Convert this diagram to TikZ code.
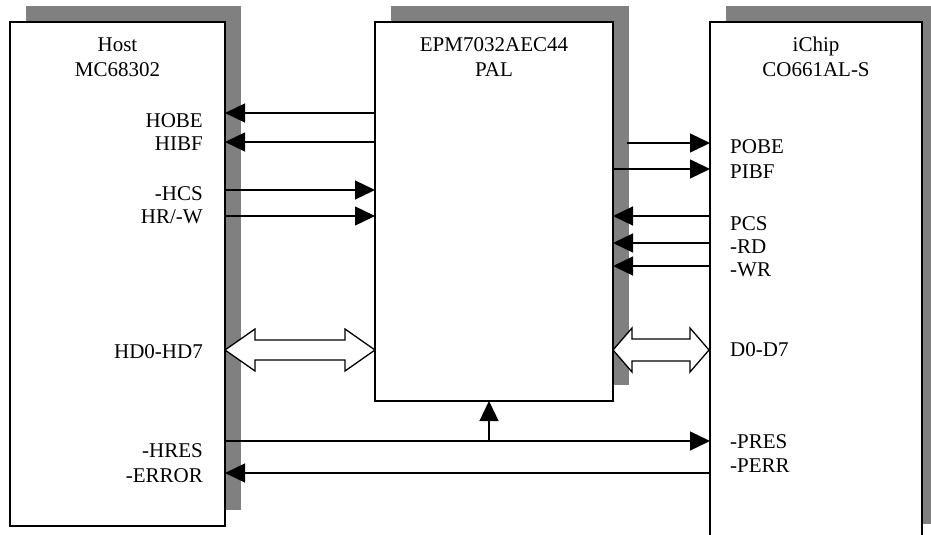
\documentclass[tikz,border=0pt]{standalone}
\usepackage{fontspec}
\setmainfont{Liberation Serif}
\usetikzlibrary{arrows.meta}
\begin{document}
\begin{tikzpicture}[x=1pt,y=-1pt,
  shadowbox/.style={fill=black!50,draw=none},
  chipbox/.style={fill=white,draw=black,line width=1.4pt},
  sig/.style={line width=1.3pt,-{Triangle[length=20pt,width=19pt]}},
  plain/.style={line width=1.3pt},
  bus/.style={fill=white,draw=black,line width=1.3pt,line join=miter},
  lbl/.style={inner sep=0pt,font=\fontsize{21}{24}\selectfont},
  rlbl/.style={lbl,anchor=base east},
  llbl/.style={lbl,anchor=base west},
  clbl/.style={lbl,anchor=base}]
\useasboundingbox (0,0) rectangle (931,535);
\begin{scope}
\clip (0,0) rectangle (931,535);
% shadows
\fill[shadowbox] (26,6) rectangle (241,510);
\fill[shadowbox] (391,6) rectangle (629,385);
\fill[shadowbox] (726,6) rectangle (940,524);
% boxes
\draw[chipbox] (10,22) rectangle (225,526);
\draw[chipbox] (375,22) rectangle (613,401);
\draw[chipbox] (710,22) rectangle (922,560);
\end{scope}
\coordinate (host) at (225,0);
\coordinate (pal) at (375,0);
\coordinate (palr) at (613,0);
\coordinate (chip) at (710,0);
% titles
\node[clbl] (t1) at (117.5,52) {Host};
\node[clbl] (t2) at (117.5,77) {MC68302};
\node[clbl] (t3) at (494,52) {EPM7032AEC44};
\node[clbl] (t4) at (494,77) {PAL};
\node[clbl] (t5) at (816,52) {iChip};
\node[clbl] (t6) at (816,77) {CO661AL-S};
% host labels
\node[rlbl] (l1) at (203,127) {HOBE};
\node[rlbl] (l2) at (203,150) {HIBF};
\node[rlbl] (l3) at (203,200) {-HCS};
\node[rlbl] (l4) at (203,223) {HR/-W};
\node[rlbl] (l5) at (203,358) {HD0-HD7};
\node[rlbl] (l6) at (203,457) {-HRES};
\node[rlbl] (l7) at (203,482) {-ERROR};
% ichip labels
\node[llbl] (r1) at (730,153) {POBE};
\node[llbl] (r2) at (730,178) {PIBF};
\node[llbl] (r3) at (730,230) {PCS};
\node[llbl] (r4) at (730,253) {-RD};
\node[llbl] (r5) at (730,276) {-WR};
\node[llbl] (r6) at (730,356) {D0-D7};
\node[llbl] (r7) at (730,448) {-PRES};
\node[llbl] (r8) at (730,472) {-PERR};
% host <-> PAL
\draw[sig] (pal |- 0,113) -- (host |- 0,113);
\draw[sig] (pal |- 0,142) -- (host |- 0,142);
\draw[sig] (host |- 0,190) -- (pal |- 0,190);
\draw[sig] (host |- 0,216) -- (pal |- 0,216);
% PAL <-> ichip
\coordinate (pobes) at (627,143);
\draw[sig] (pobes) -- (chip |- pobes);
\draw[sig] (palr |- 0,169) -- (chip |- 0,169);
\draw[sig] (chip |- 0,216) -- (palr |- 0,216);
\draw[sig] (chip |- 0,243) -- (palr |- 0,243);
\draw[sig] (chip |- 0,266) -- (palr |- 0,266);
% buses
\draw[bus] (225,350) -- (255,329) -- (255,340) -- (345,340) -- (345,329) -- (375,350)
  -- (345,371) -- (345,360) -- (255,360) -- (255,371) -- cycle;
\draw[bus] (613,350) -- (632,328) -- (632,339) -- (690,339) -- (690,328) -- (709,350)
  -- (690,372) -- (690,361) -- (632,361) -- (632,372) -- cycle;
% reset / error
\coordinate (rj) at (489,441);
\draw[sig] (host |- rj) -- (chip |- rj);
\draw[sig] (rj) -- (489,401);
\draw[sig] (chip |- 0,473) -- (host |- 0,473);
\end{tikzpicture}
\end{document}
